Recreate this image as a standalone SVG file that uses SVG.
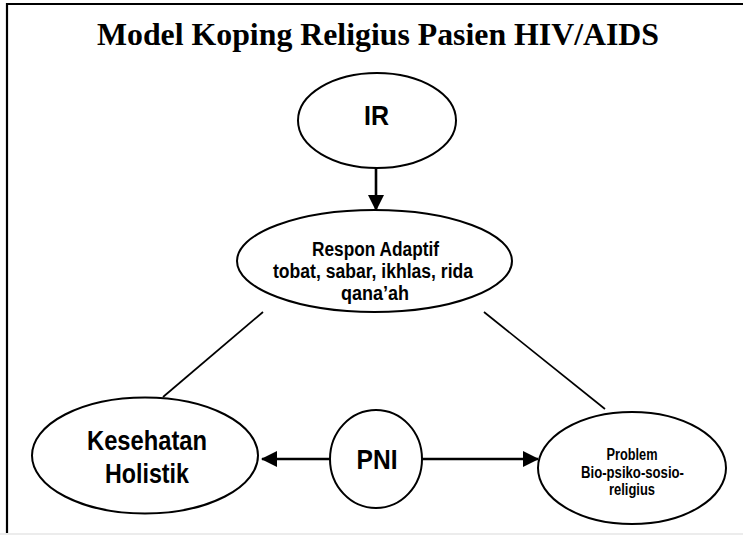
<svg xmlns="http://www.w3.org/2000/svg" width="743" height="535" viewBox="0 0 743 535">
  <style>
    .node { fill: #ffffff; stroke: #000000; stroke-width: 2; }
    .lbl { font-family: "Liberation Sans Narrow", "Liberation Sans", Arial, sans-serif; font-weight: bold; fill: #000000; text-anchor: middle; }
    .edge { stroke: #000000; stroke-width: 1.7; fill: none; }
    .arrow { stroke: #000000; stroke-width: 2.6; fill: none; }
    .title { font-family: "Liberation Serif", "Times New Roman", serif; font-weight: bold; font-size: 32px; fill: #000000; text-anchor: middle; }
  </style>
  <defs>
    <marker id="head" viewBox="0 0 16 16" refX="15" refY="8" markerWidth="16" markerHeight="16" markerUnits="userSpaceOnUse" orient="auto">
      <path d="M0,0 L16,8 L0,16 Z" fill="#000000"/>
    </marker>
  </defs>

  <!-- page background and frame -->
  <rect x="0" y="0" width="743" height="535" fill="#ffffff"/>
  <rect x="0" y="533" width="743" height="2" fill="#ececec"/>
  <line x1="7" y1="3" x2="7" y2="533" stroke="#000000" stroke-width="2.2"/>
  <line x1="6" y1="4" x2="743" y2="4" stroke="#000000" stroke-width="2.2"/>

  <text class="title" x="378" y="45" textLength="562" lengthAdjust="spacingAndGlyphs">Model Koping Religius Pasien HIV/AIDS</text>

  <!-- connectors -->
  <g id="connectors">
    <line class="arrow" x1="376" y1="168" x2="376" y2="210" stroke-width="2.2" marker-end="url(#head)"/>
    <line class="edge" x1="263" y1="312" x2="163" y2="397"/>
    <line class="edge" x1="484" y1="312" x2="605" y2="409"/>
    <line class="arrow" x1="330" y1="459" x2="262" y2="459" marker-end="url(#head)"/>
    <line class="arrow" x1="422" y1="459" x2="538" y2="459" marker-end="url(#head)"/>
  </g>

  <g id="node-ir">
    <ellipse class="node" cx="377" cy="120.5" rx="79" ry="47.5"/>
    <text class="lbl" x="376.5" y="125" font-size="28" textLength="25" lengthAdjust="spacingAndGlyphs">IR</text>
  </g>

  <g id="node-respon">
    <ellipse class="node" cx="374.5" cy="261" rx="137.5" ry="51"/>
    <text class="lbl" x="375.5" y="256" font-size="20" textLength="127" lengthAdjust="spacingAndGlyphs">Respon Adaptif</text>
    <text class="lbl" x="373" y="278" font-size="20" textLength="200" lengthAdjust="spacingAndGlyphs">tobat, sabar, ikhlas, rida</text>
    <text class="lbl" x="375" y="300" font-size="20" textLength="68" lengthAdjust="spacingAndGlyphs">qana’ah</text>
  </g>

  <g id="node-kesehatan">
    <ellipse class="node" cx="145" cy="455.5" rx="113" ry="58"/>
    <text class="lbl" x="147" y="450" font-size="28" textLength="120" lengthAdjust="spacingAndGlyphs">Kesehatan</text>
    <text class="lbl" x="147" y="483" font-size="28" textLength="84" lengthAdjust="spacingAndGlyphs">Holistik</text>
  </g>

  <g id="node-pni">
    <ellipse class="node" cx="376" cy="459" rx="46" ry="49"/>
    <text class="lbl" x="377" y="469" font-size="28" textLength="41" lengthAdjust="spacingAndGlyphs">PNI</text>
  </g>

  <g id="node-problem">
    <ellipse class="node" cx="632" cy="468" rx="94" ry="56"/>
    <text class="lbl" x="632" y="460" font-size="16" textLength="51" lengthAdjust="spacingAndGlyphs">Problem</text>
    <text class="lbl" x="632.5" y="477.5" font-size="16" textLength="103" lengthAdjust="spacingAndGlyphs">Bio-psiko-sosio-</text>
    <text class="lbl" x="632" y="495" font-size="16" textLength="46" lengthAdjust="spacingAndGlyphs">religius</text>
  </g>
</svg>
